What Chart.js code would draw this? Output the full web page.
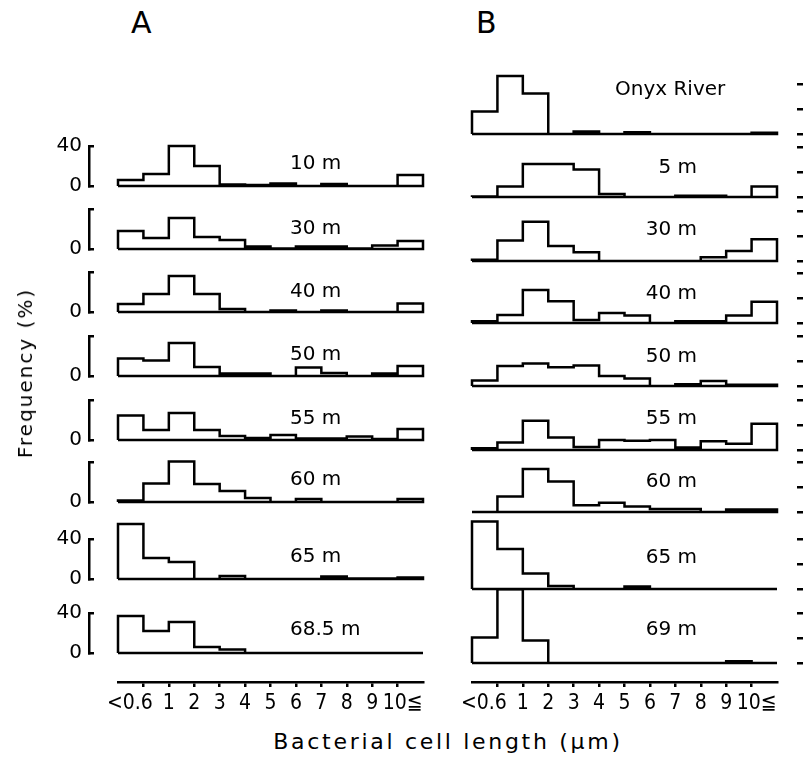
<!DOCTYPE html>
<html><head><meta charset="utf-8">
<script src="https://cdn.jsdelivr.net/npm/chart.js@4"></script>
<style>
html,body{margin:0;padding:0;background:#fff;}
#wrap{position:relative;width:803px;height:758px;overflow:hidden;background:#fff;}
#wrap canvas{position:absolute;}
.t{position:absolute;font-family:"DejaVu Sans",sans-serif;color:#000;white-space:nowrap;line-height:1;}
</style></head><body><div id="wrap"></div>
<script>
// ---------------- data ----------------
// size classes (bins) of bacterial cell length, µm
const binLabels = ['<0.6','0.6-1','1-2','2-3','3-4','4-5','5-6','6-7','7-8','8-9','9-10','10≦'];
const axisTickLabels = ['<0.6','1','2','3','4','5','6','7','8','9','10≦'];
const yTickValues = [0, 20, 40];

// Column A (frequency %, one value per bin)
const A_10m   = [6, 12, 40, 20, 1.5, 1, 2.5, 0, 2, 0, 0, 11];
const A_30m   = [18, 11, 31, 12, 9, 2.5, 0.5, 2.5, 2.5, 0.5, 3.5, 8];
const A_40m   = [8, 18, 36, 18, 3, 0, 1.5, 0, 1.5, 0, 0, 8.5];
const A_50m   = [17.5, 15.5, 33, 9, 2.5, 2.5, 0, 8.5, 3, 0, 2.5, 10];
const A_55m   = [24.5, 10, 27, 10, 4, 2, 5, 1.5, 1.5, 3.5, 1, 11];
const A_60m   = [1.5, 18.5, 40.5, 18, 11, 4, 0, 3, 0, 0, 0, 3];
const A_65m   = [55, 21, 17, 0, 3, 0, 0, 0, 2.5, 0.5, 0.5, 1.5];
const A_68_5m = [37, 22, 31, 6, 3.5, 0, 0, 0, 0, 0, 0, 0];

// Column B
const B_onyx  = [18, 46.5, 32.5, 0, 2, 0, 1.5, 0, 0, 0, 0, 1];
const B_5m    = [0.5, 8.5, 26.5, 26.5, 22, 2.5, 0, 0, 1, 1, 0, 8.5];
const B_30m   = [1, 16.5, 31.5, 12, 7, 0, 0, 0, 0, 3, 8, 17.5];
const B_40m   = [1.5, 6.5, 26.5, 17.5, 2.5, 8, 6, 0, 1.5, 1.5, 6, 17];
const B_50m   = [4.5, 16, 18, 15, 16.5, 8, 6, 0, 1.5, 4, 1, 1];
const B_55m   = [1.5, 6, 23.5, 10, 2.5, 8, 7.5, 8, 2, 7, 5, 21];
const B_60m   = [0, 12.5, 34.5, 24.5, 5.5, 7.5, 4.5, 2.5, 2.5, 0, 2, 2];
const B_65m   = [54, 32, 12.5, 2.5, 0, 0, 2, 0, 0, 0, 0, 0];
const B_69m   = [20.5, 59, 18, 0, 0, 0, 0, 0, 0, 0, 1.5, 0];

const namesA = ['10 m','30 m','40 m','50 m','55 m','60 m','65 m','68.5 m'];
const seriesA = [A_10m, A_30m, A_40m, A_50m, A_55m, A_60m, A_65m, A_68_5m];
const topLabelA = [true, false, false, false, false, false, true, true];
const namesB = ['Onyx River','5 m','30 m','40 m','50 m','55 m','60 m','65 m','69 m'];
const seriesB = [B_onyx, B_5m, B_30m, B_40m, B_50m, B_55m, B_60m, B_65m, B_69m];

// ---------------- layout ----------------
const baselineA = [196, 259, 322, 386, 450, 512, 589, 663];
const labelYA   = [162, 227, 290, 353, 417, 478, 555, 628];
const baselineB = [134, 197, 261, 323, 386, 450, 512, 589, 663];
const labelYB   = [88, 166, 228, 292, 355, 417, 480, 556, 628];
const HIST_W = 305, NBINS = binLabels.length, BIN_PX = HIST_W / NBINS;
const PAD_TOP = 34, PAD_BOT = 14, AREA_H = 50;
const INK = '#000';
const LW = 2.5;
const wrap = document.getElementById('wrap');

function text(str, x, cy, size, align, extra) {
  const d = document.createElement('div');
  d.className = 't';
  d.textContent = str;
  d.style.left = x + 'px';
  d.style.top = cy + 'px';
  d.style.fontSize = size + 'px';
  const tx = align === 'center' ? '-50%' : (align === 'right' ? '-100%' : '0');
  d.style.transform = 'translate(' + tx + ',-50%)' + (extra && extra.rotate ? ' rotate(' + extra.rotate + 'deg)' : '');
  if (extra && extra.ls) d.style.letterSpacing = extra.ls + 'px';
  wrap.appendChild(d);
  return d;
}

// outline of a step histogram: point i sits on the left edge of bin i
function histPoints(vals) {
  const pts = [{x: 0, y: 0}];
  vals.forEach((v, i) => pts.push({x: i, y: v}));
  pts.push({x: vals.length, y: vals[vals.length - 1]});
  pts.push({x: vals.length, y: 0});
  pts.push({x: 0, y: 0});
  return pts;
}

function makePanel(isA, vals, baseline, showTop) {
  const cv = document.createElement('canvas');
  const left = isA ? 0 : 440;
  const width = isA ? 430 : 363;
  const top = baseline - AREA_H - PAD_TOP;
  const height = PAD_TOP + AREA_H + PAD_BOT;
  cv.width = width; cv.height = height;
  cv.style.left = left + 'px'; cv.style.top = top + 'px';
  wrap.appendChild(cv);
  const yAxisW = isA ? 89 : 6;
  const padLeft = isA ? 0 : 32;
  const padRight = isA ? 7 : 0;
  const areaLeft = left + padLeft + (isA ? yAxisW : 0);
  const areaRight = left + width - padRight - (isA ? 0 : yAxisW);
  const histLeft = isA ? 118 : 472;
  const xmin = -(histLeft - areaLeft) / BIN_PX;
  const xmax = (areaRight - histLeft) / BIN_PX;
  new Chart(cv, {
    type: 'line',
    data: {datasets: [{
      data: histPoints(vals), stepped: 'before', borderColor: INK, borderWidth: LW,
      pointRadius: 0, fill: false, clip: false, borderJoinStyle: 'miter', tension: 0
    }]},
    options: {
      responsive: false, animation: false, events: [],
      layout: {padding: {top: PAD_TOP, bottom: PAD_BOT, left: padLeft, right: padRight}},
      plugins: {legend: {display: false}, tooltip: {enabled: false}},
      scales: {
        x: {type: 'linear', min: xmin, max: xmax, display: false},
        y: {
          type: 'linear', min: 0, max: 40, position: isA ? 'left' : 'right',
          afterFit: s => { s.width = yAxisW; },
          afterBuildTicks: s => { s.ticks = yTickValues.map(v => ({value: v})); },
          grid: {drawOnChartArea: false, drawTicks: true, tickLength: isA ? -5 : 6, lineWidth: LW, color: INK},
          border: {display: isA, width: LW, color: INK},
          ticks: {display: isA, padding: 12, color: INK, font: {family: 'DejaVu Sans', size: 20},
            callback: v => v === 0 ? '0' : (v === 40 && showTop ? '40' : '')}
        }
      }
    }
  });
}

function makeAxis(isA) {
  const cv = document.createElement('canvas');
  const histLeft = isA ? 118 : 472;
  const padL = 40, padR = 30;
  const left = histLeft - padL, width = HIST_W + padL + padR;
  const top = 660, height = 58;
  cv.width = width; cv.height = height;
  cv.style.left = left + 'px'; cv.style.top = top + 'px';
  wrap.appendChild(cv);
  const labelPos = [0.47, 2, 3, 4, 5, 6, 7, 8, 9, 10, 11.2];
  new Chart(cv, {
    type: 'line',
    data: {datasets: []},
    options: {
      responsive: false, animation: false, events: [],
      layout: {padding: {top: 10, bottom: 0, left: padL, right: padR}},
      plugins: {legend: {display: false}, tooltip: {enabled: false}},
      scales: {
        y: {display: false, min: 0, max: 1},
        x: {
          type: 'linear', position: 'bottom', min: 0, max: NBINS, weight: 0,
          afterBuildTicks: s => { s.ticks = binLabels.slice(1).map((b, i) => ({value: i + 1})); },
          afterFit: s => { s.height = 6; },
          grid: {drawOnChartArea: false, drawTicks: true, tickLength: 5, lineWidth: LW, color: INK},
          border: {display: true, width: LW, color: INK},
          ticks: {display: false, autoSkip: false}
        },
        x2: {
          type: 'linear', position: 'bottom', min: 0, max: NBINS, weight: 1,
          afterBuildTicks: s => { s.ticks = labelPos.map(v => ({value: v})); },
          afterFit: s => { s.height = 30; },
          grid: {display: false, drawTicks: false, tickLength: 0},
          border: {display: false},
          ticks: {autoSkip: false, maxRotation: 0, minRotation: 0, padding: 3, color: INK,
            font: {family: '"Liberation Sans Narrow", "DejaVu Sans Condensed", Roboto, sans-serif', size: 21},
            callback: (v, i) => axisTickLabels[i]}
        }
      }
    }
  });
}

seriesA.forEach((vals, i) => {
  makePanel(true, vals, baselineA[i], topLabelA[i]);
  text(namesA[i], 290, labelYA[i], 20, 'left');
});
seriesB.forEach((vals, i) => {
  makePanel(false, vals, baselineB[i], false);
  if (i === 0) text(namesB[i], 615, labelYB[i], 20, 'left');
  else text(namesB[i], 697, labelYB[i], 20, 'right');
});
makeAxis(true);
makeAxis(false);

text('A', 131, 23, 30, 'left');
text('B', 476, 23, 30, 'left');
text('Frequency (%)', 25, 373, 20, 'center', {rotate: -90, ls: 2});
text('Bacterial cell length (\u00b5m)', 448, 742, 22, 'center', {ls: 2.7});
</script></body></html>
